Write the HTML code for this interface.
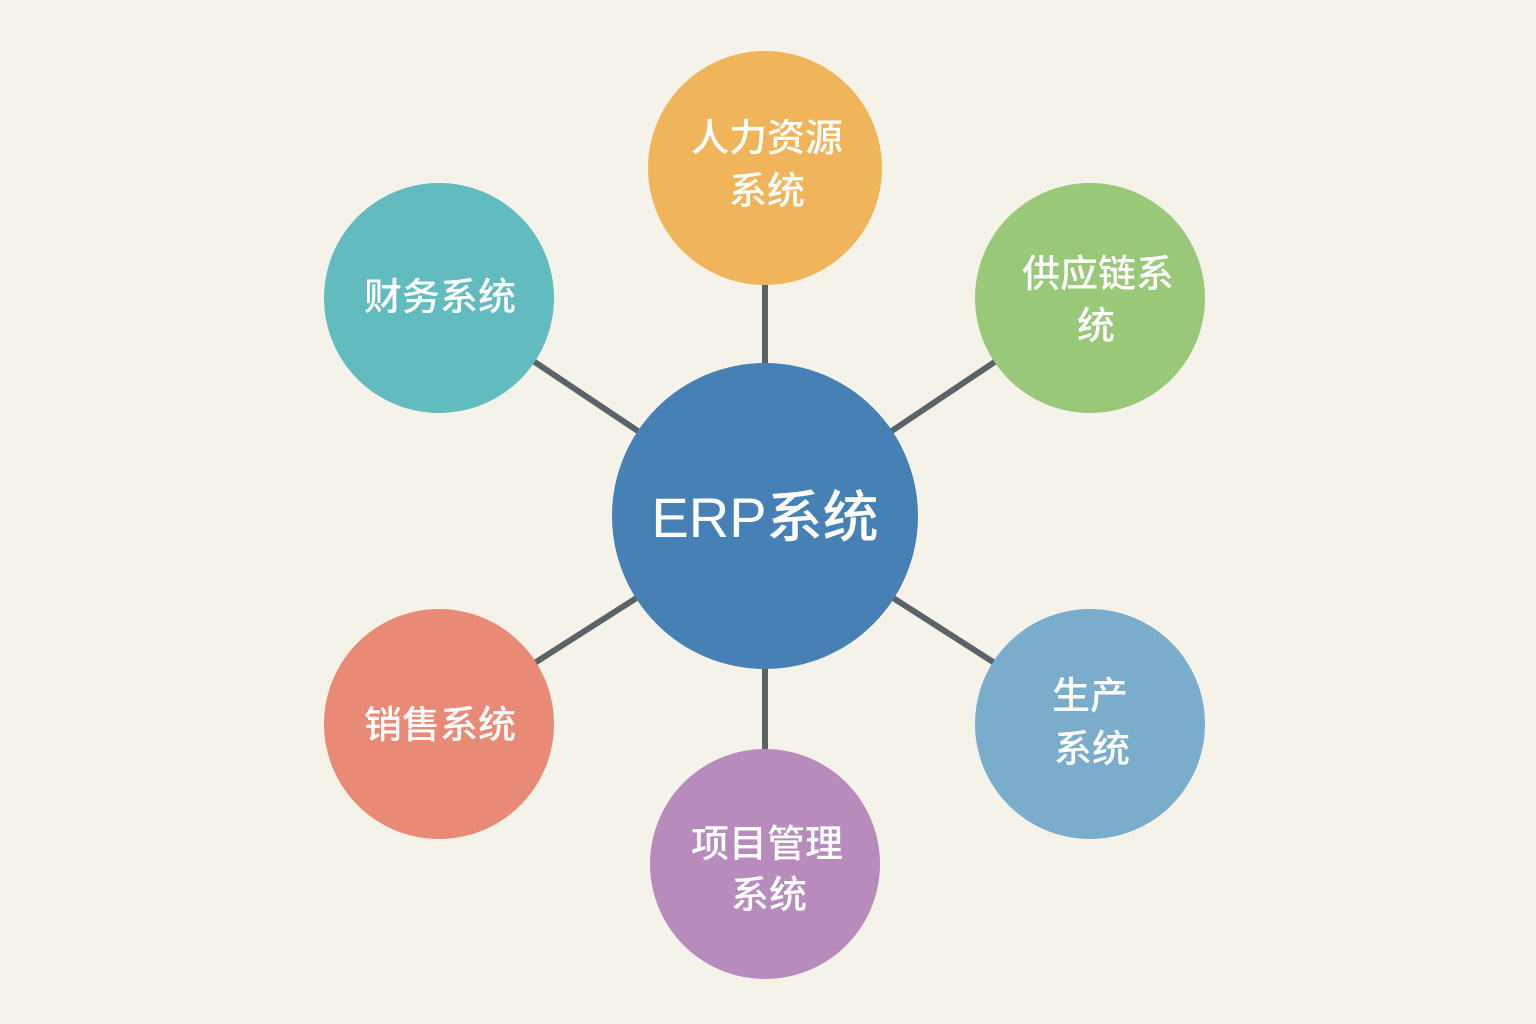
<!DOCTYPE html>
<html><head><meta charset="utf-8"><style>
html,body{margin:0;padding:0;background:#f5f2ea;}
svg{display:block}
text{font-family:"Liberation Sans","Noto Sans CJK SC",sans-serif;fill:#fff;text-anchor:middle;font-weight:500}
</style></head><body>
<svg width="1536" height="1024" viewBox="0 0 1536 1024" xmlns="http://www.w3.org/2000/svg">
<rect width="1536" height="1024" fill="#f5f2ea"/>
<g stroke="#5a6468" stroke-width="6">
<line x1="765" y1="516" x2="765" y2="168"/>
<line x1="765" y1="516" x2="439" y2="298"/>
<line x1="765" y1="516" x2="1090" y2="298"/>
<line x1="765" y1="516" x2="439" y2="724"/>
<line x1="765" y1="516" x2="1090" y2="724"/>
<line x1="765" y1="516" x2="765" y2="864"/>
</g>
<circle cx="765" cy="168" r="117" fill="#f0b55a"/>
<circle cx="439" cy="298" r="115" fill="#62bbbf"/>
<circle cx="1090" cy="298" r="115" fill="#98c878"/>
<circle cx="439" cy="724" r="115" fill="#e88a76"/>
<circle cx="1090" cy="724" r="115" fill="#7aaccc"/>
<circle cx="765" cy="864" r="115" fill="#b88bbd"/>
<circle cx="765" cy="516" r="153" fill="#4680b4"/>
<g font-size="38">
<text x="767" y="151">人力资源</text>
<text x="767" y="204">系统</text>
<text x="440" y="310">财务系统</text>
<text x="1098" y="287">供应链系</text>
<text x="1096" y="339">统</text>
<text x="440" y="738">销售系统</text>
<text x="1090" y="709">生产</text>
<text x="1092" y="762">系统</text>
<text x="767" y="857">项目管理</text>
<text x="769" y="908">系统</text>
</g>
<text x="765" y="537" font-size="56" font-weight="700">ERP系统</text>
</svg>
</body></html>
